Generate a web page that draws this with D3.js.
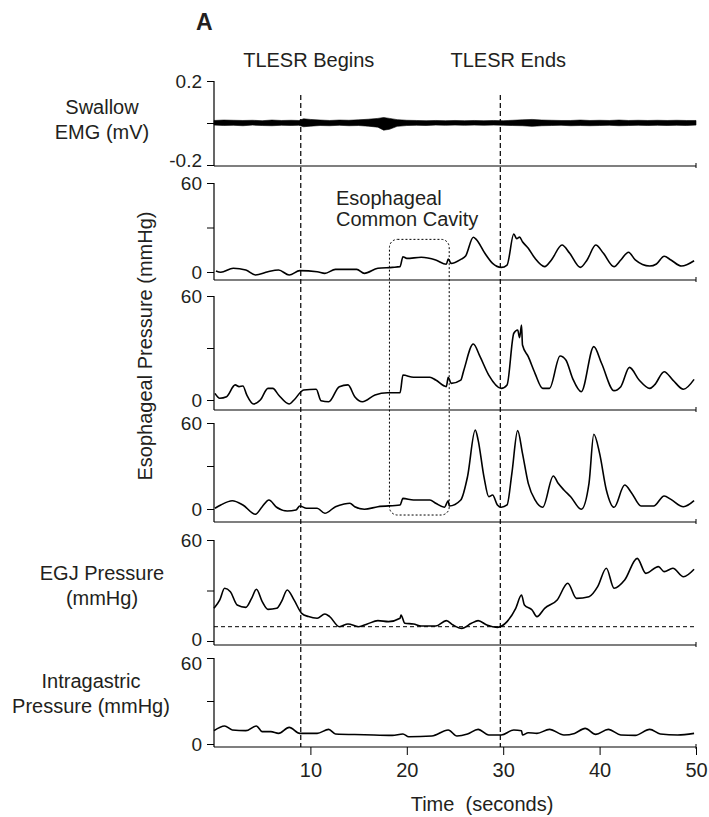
<!DOCTYPE html>
<html>
<head>
<meta charset="utf-8">
<script src="https://cdn.jsdelivr.net/npm/d3@7"></script>
<style>
  body { margin: 0; background: #fff; }
  svg text { font-family: "Liberation Sans", Arial, Helvetica, sans-serif; fill: #231f20; }
</style>
</head>
<body>
<svg id="chart" width="709" height="817"></svg>
<script>
const timeTicks = [10, 20, 30, 40, 50];
const events = [
  { label: "TLESR Begins", t: 9.0 },
  { label: "TLESR Ends", t: 29.7 }
];
const emgTicks = [-0.2, 0, 0.2];
const pressureTicks = [0, 30, 60];

// [time, low, high] envelope of the EMG trace
const emgBand = [
  [0, -0.01, 0.012], [1, -0.012, 0.014], [2, -0.011, 0.013], [3, -0.013, 0.012], [4, -0.01, 0.013],
  [5, -0.012, 0.011], [6, -0.013, 0.014], [7, -0.011, 0.012], [8, -0.012, 0.013], [8.8, -0.011, 0.012],
  [9.3, -0.018, 0.02], [10, -0.015, 0.017], [11, -0.012, 0.014], [12, -0.013, 0.012], [13, -0.011, 0.014],
  [14, -0.013, 0.013], [15, -0.012, 0.015], [16, -0.015, 0.018], [17, -0.02, 0.022], [17.6, -0.034, 0.026],
  [18.2, -0.03, 0.022], [19, -0.016, 0.016], [20, -0.012, 0.013], [21, -0.011, 0.012], [22, -0.012, 0.011],
  [23, -0.01, 0.012], [24, -0.011, 0.011], [25, -0.01, 0.012], [26, -0.011, 0.011], [27, -0.01, 0.012],
  [28, -0.011, 0.011], [29, -0.01, 0.012], [30, -0.011, 0.011], [31, -0.012, 0.013], [32, -0.013, 0.015],
  [33, -0.016, 0.017], [34, -0.013, 0.014], [35, -0.012, 0.013], [36, -0.011, 0.012], [37, -0.013, 0.012],
  [38, -0.012, 0.014], [39, -0.013, 0.012], [40, -0.012, 0.013], [41, -0.011, 0.012], [42, -0.013, 0.014],
  [43, -0.012, 0.012], [44, -0.011, 0.013], [45, -0.012, 0.012], [46, -0.011, 0.013], [47, -0.012, 0.012],
  [48, -0.011, 0.013], [49, -0.012, 0.012], [50, -0.01, 0.012]
];

const esoUpper = [
  [0.2, 0.7], [0.7, -0.2], [2, 2.5], [3.3, 1.3], [4.3, -2], [5.6, 0.2], [6.7, 1.3],
  [7.8, -2], [8.9, 0.9], [10.7, 0.2], [11.5, -0.9], [12.6, 1.8], [14.8, 1.8], [15.6, -0.9],
  [17, 2.5], [18.5, 3.1], [19.3, 3.6], [19.6, 10.3], [20, 9.2], [21.5, 9.9], [23, 8.1],
  [24.1, 5.2], [24.3, 8.8], [24.6, 5.8], [25.6, 8.5], [26.1, 10.8], [26.9, 23.4], [27.2, 22],
  [28.1, 12.6], [28.9, 5.8], [29.8, 3.1], [30.4, 4.7], [31.1, 25.6], [31.4, 22.5], [31.7, 23.5],
  [32, 20.4], [32.6, 16], [33.3, 9.2], [34.3, 3.6], [35, 8.1], [36.1, 18.2], [36.9, 12.6],
  [38, 3.1], [38.7, 8.1], [39.6, 18.2], [40.4, 12.6], [41.5, 3.6], [42.2, 8.1], [43, 13.3],
  [43.7, 8.1], [45.2, 4], [45.9, 5.4], [46.7, 10.6], [47.4, 8.1], [48.5, 4], [49.8, 7.6]
];

const esoMiddle = [
  [0.1, 3.8], [0.6, 1], [1.3, 1.9], [2.2, 8.7], [2.6, 7.7], [3, 8.1], [3.4, 2.9], [4.1, -2.3],
  [4.8, 0], [5.6, 6.7], [6.1, 6.7], [6.7, 2.9], [7.8, -2.3], [8.3, 0], [9.3, 5.8], [10.6, 6.2],
  [11.1, -0.4], [11.9, -1], [13, 7.7], [13.9, 8.7], [14.6, 1.9], [15.4, -1], [16.7, 2.9],
  [18, 4.2], [19.3, 4.2], [19.6, 14.4], [20.7, 13.1], [22.4, 13.1], [23, 11.5], [24.1, 7.7],
  [24.3, 13.1], [24.6, 9.6], [25.6, 11.5], [25.9, 16.9], [26.9, 32.3], [27.6, 25], [28.5, 14.4],
  [29.8, 6.7], [30.4, 8.7], [31.1, 38.5], [31.5, 40.4], [31.7, 36], [31.9, 43.3], [32, 31.7],
  [32.6, 25], [33.3, 15.4], [34.1, 6.7], [34.8, 6.7], [35.9, 25.4], [36.5, 23.1], [37.2, 12.5],
  [38.1, 4.8], [39.4, 30.8], [40.2, 21.2], [41.5, 5.4], [42.2, 7.7], [43.1, 18.8], [44.1, 11.5],
  [45.2, 6.7], [45.7, 8.7], [46.7, 16.3], [47.6, 11.5], [48.7, 6.2], [49.8, 11.9]
];

const esoLower = [
  [0.1, 0.5], [0.7, 2.8], [1.9, 5.8], [3, 2.8], [4.3, -3.7], [5, 1.6], [5.7, 6.3], [6.5, 1.2],
  [7.6, -1.4], [8.5, -0.7], [8.9, 2.1], [9.6, 0.5], [10.7, 0.5], [11.5, -3], [12.6, 1.6],
  [13.5, 3.5], [14.1, 4], [14.6, 1.6], [15.6, -0.2], [17, 1.6], [19.3, 2.8], [19.6, 7.4],
  [20.7, 6.3], [22.4, 6.3], [23, 4], [23.9, 1.2], [24.3, 5.8], [24.4, 2.1], [25.6, 6.3],
  [26.3, 22.6], [27.1, 55.1], [27.4, 48.1], [28, 22.6], [28.5, 8.6], [28.9, 9.8], [29.4, 2.8],
  [29.8, 1.2], [30.4, 2.8], [30.9, 24.9], [31.5, 54.7], [32, 38.8], [32.6, 17.9], [33.3, 6.3],
  [34.1, 1.2], [35.2, 23], [35.7, 17.9], [36.3, 13.3], [37, 8.6], [38.1, -0.2], [38.9, 17.9],
  [39.4, 52.1], [40, 38.8], [40.7, 13.3], [41.5, 1.2], [42.6, 16.7], [43.3, 11.4], [44.3, 2.1],
  [45.6, 2.1], [46.7, 9.1], [47.4, 6.7], [48.7, 1.6], [49.8, 5.8]
];

const egjPressure = [
  [0, 19.4], [0.6, 24.4], [1.1, 31.3], [1.7, 29.3], [2.4, 21.4], [3.3, 20], [3.9, 25.3],
  [4.4, 30.7], [5, 23.4], [5.6, 18.8], [6.5, 19.4], [7, 23.4], [7.6, 30.3], [8.3, 24.4],
  [9.1, 16.4], [9.8, 14.5], [10.7, 13.5], [11.5, 16], [12, 14.5], [13, 8.5], [13.9, 10.1],
  [15, 8.5], [15.9, 10.1], [17, 12.1], [18.1, 11.5], [19.3, 13.5], [19.4, 15.4], [19.8, 10.5],
  [20.7, 10.1], [21.5, 8.9], [23, 8.9], [24.1, 12.1], [24.8, 9.5], [25.7, 7.5], [26.7, 10.5],
  [27.4, 12.1], [28.3, 9.5], [29.4, 8.1], [30.4, 11.5], [31.3, 19.4], [31.9, 27.3], [32.2, 21.4],
  [33, 18.4], [33.5, 14.5], [34.3, 19.4], [35.6, 24.4], [36.7, 34.3], [37.6, 25.3], [38.9, 26.3],
  [39.8, 32.3], [40.7, 43.2], [41.5, 31.3], [42.6, 36.2], [43.9, 49.1], [44.8, 40.2], [46.1, 44.2],
  [46.7, 41.2], [47.6, 43.2], [48.7, 38.2], [49.8, 42.6]
];
const egjBaseline = 8.5;

const gastricPressure = [
  [0, 9.3], [1.1, 12.6], [1.9, 9.8], [3.3, 9.3], [4.4, 12.6], [5, 8.6], [5.9, 8.6], [6.7, 7.4],
  [7.8, 11.6], [8.9, 7.4], [10.7, 7.4], [11.9, 10.2], [12.6, 7], [15.6, 6.5], [18.5, 6],
  [19.6, 7], [20.2, 5.1], [22.6, 5.6], [24.3, 9.8], [25.2, 5.6], [26.3, 7], [27.4, 10.2],
  [28.5, 6.3], [29.8, 6.3], [31.1, 9.8], [31.9, 9.3], [32, 6.3], [32.6, 7.9], [33.5, 7.4],
  [34.8, 10.2], [36.3, 6.3], [37.4, 7.4], [38.5, 10.9], [39.6, 6.7], [40.9, 10.2], [42.2, 6.3],
  [43.7, 6], [45.2, 10.2], [46.3, 7], [48.1, 6.3], [49.8, 7.4]
];

const cavity = { t0: 18.2, t1: 24.4, top: 22, bottom: -4.2 };

const svg = d3.select("#chart");
const x = d3.scaleLinear().domain([0, 50]).range([214, 696]);

const panels = [
  { id: "emg", domain: [-0.2, 0.2], range: [165, 81], base: 166, ticks: emgTicks, shift: { "-0.2": -5 } },
  { id: "esoUpper", domain: [0, 60], range: [272, 183], base: 280, ticks: pressureTicks, data: esoUpper },
  { id: "esoMiddle", domain: [0, 60], range: [400, 296], base: 410, ticks: pressureTicks, data: esoMiddle },
  { id: "esoLower", domain: [0, 60], range: [509, 423], base: 522, ticks: pressureTicks, data: esoLower },
  { id: "egj", domain: [0, 60], range: [641, 540], base: 645, ticks: pressureTicks, data: egjPressure, shift: { "0": -2 } },
  { id: "gastric", domain: [0, 60], range: [744, 658], base: 747, ticks: pressureTicks, data: gastricPressure, shift: { "60": 5 } }
];
panels.forEach((p) => (p.y = d3.scaleLinear().domain(p.domain).range(p.range)));
const byId = Object.fromEntries(panels.map((p) => [p.id, p]));

const axisFont = (g) =>
  g.attr("font-size", 19)
    .attr("font-family", '"Liberation Sans", Arial, Helvetica, sans-serif');

panels.forEach((p) => {
  const g = svg.append("g").attr("class", "panel " + p.id);

  g.append("g")
    .attr("transform", `translate(${x.range()[0]},0)`)
    .call(
      d3.axisLeft(p.y)
        .tickValues(p.ticks)
        .tickSize(7)
        .tickSizeOuter(0)
        .tickPadding(5)
        .tickFormat((d) => (d === p.domain[0] || d === p.domain[1] ? String(d) : ""))
    )
    .call(axisFont)
    .call((a) => a.select(".domain").remove())
    .call((a) => a.selectAll(".tick line").attr("stroke", "#000").attr("stroke-width", 1))
    .call((a) =>
      a.selectAll(".tick text")
        .attr("y", (d) => (p.shift && p.shift[String(d)]) || 0)
    );

  g.append("line")
    .attr("x1", x.range()[0])
    .attr("x2", x.range()[0])
    .attr("y1", p.y(p.domain[1]))
    .attr("y2", p.base)
    .attr("stroke", "#000")
    .attr("stroke-width", 1.2);

  g.append("line")
    .attr("x1", x.range()[0])
    .attr("x2", x.range()[1])
    .attr("y1", p.base)
    .attr("y2", p.base)
    .attr("stroke", "#000")
    .attr("stroke-width", 1.2);

  g.append("line")
    .attr("x1", x(50))
    .attr("x2", x(50))
    .attr("y1", p.base - 3)
    .attr("y2", p.base + 2)
    .attr("stroke", "#000");

  if (p.data) {
    g.append("path")
      .datum(p.data)
      .attr("fill", "none")
      .attr("stroke", "#000")
      .attr("stroke-width", 1.6)
      .attr("stroke-linejoin", "round")
      .attr("d", d3.line().x((d) => x(d[0])).y((d) => p.y(d[1])).curve(d3.curveMonotoneX));
  }
});

const emg = byId.emg;
svg.append("path")
  .datum(emgBand)
  .attr("fill", "#000")
  .attr("stroke", "#000")
  .attr("stroke-width", 0.6)
  .attr("d", d3.area().x((d) => x(d[0])).y0((d) => emg.y(d[1])).y1((d) => emg.y(d[2])));

const egj = byId.egj;
svg.append("line")
  .attr("x1", x(0))
  .attr("x2", x(50))
  .attr("y1", egj.y(egjBaseline))
  .attr("y2", egj.y(egjBaseline))
  .attr("stroke", "#000")
  .attr("stroke-width", 1)
  .attr("stroke-dasharray", "4,3");

const lastPanel = byId.gastric;
svg.append("g")
  .attr("transform", `translate(0,${lastPanel.base})`)
  .call(d3.axisBottom(x).tickValues(timeTicks).tickSize(8).tickSizeOuter(0).tickPadding(8))
  .call(axisFont)
  .attr("font-size", 20)
  .call((a) => a.select(".domain").remove());

svg.selectAll(".event-line")
  .data(events)
  .join("line")
  .attr("class", "event-line")
  .attr("x1", (d) => x(d.t))
  .attr("x2", (d) => x(d.t))
  .attr("y1", 95)
  .attr("y2", lastPanel.base)
  .attr("stroke", "#000")
  .attr("stroke-width", 1.2)
  .attr("stroke-dasharray", "5,3");

svg.selectAll(".event-label")
  .data(events)
  .join("text")
  .attr("class", "event-label")
  .attr("x", (d) => x(d.t) + 8)
  .attr("y", 67)
  .attr("text-anchor", "middle")
  .attr("font-size", 20)
  .text((d) => d.label);

const upperPanel = byId.esoUpper, lowerPanel = byId.esoLower;
svg.append("rect")
  .attr("x", x(cavity.t0))
  .attr("y", upperPanel.y(cavity.top))
  .attr("width", x(cavity.t1) - x(cavity.t0))
  .attr("height", lowerPanel.y(cavity.bottom) - upperPanel.y(cavity.top))
  .attr("rx", 8)
  .attr("fill", "none")
  .attr("stroke", "#000")
  .attr("stroke-width", 1)
  .attr("stroke-dasharray", "2,2");

const cavityLabel = svg.append("text").attr("font-size", 20);
cavityLabel.append("tspan").attr("x", 336).attr("y", 205).text("Esophageal");
cavityLabel.append("tspan").attr("x", 336).attr("y", 226).text("Common Cavity");

svg.append("text")
  .attr("x", 196)
  .attr("y", 30)
  .attr("font-size", 23)
  .attr("font-weight", "bold")
  .text("A");

const sideLabels = [
  { lines: ["Swallow", "EMG (mV)"], x: 102, y: 114 },
  { lines: ["EGJ Pressure", "(mmHg)"], x: 102, y: 580 },
  { lines: ["Intragastric", "Pressure (mmHg)"], x: 91, y: 688 }
];
sideLabels.forEach((s) => {
  const t = svg.append("text").attr("text-anchor", "middle").attr("font-size", 20);
  s.lines.forEach((line, i) => t.append("tspan").attr("x", s.x).attr("y", s.y + i * 25).text(line));
});

svg.append("text")
  .attr("transform", "translate(152,346) rotate(-90)")
  .attr("text-anchor", "middle")
  .attr("font-size", 20)
  .text("Esophageal Pressure (mmHg)");

svg.append("text")
  .attr("x", 482)
  .attr("y", 811)
  .attr("text-anchor", "middle")
  .attr("font-size", 20)
  .style("white-space", "pre")
  .text("Time  (seconds)");
</script>
</body>
</html>
